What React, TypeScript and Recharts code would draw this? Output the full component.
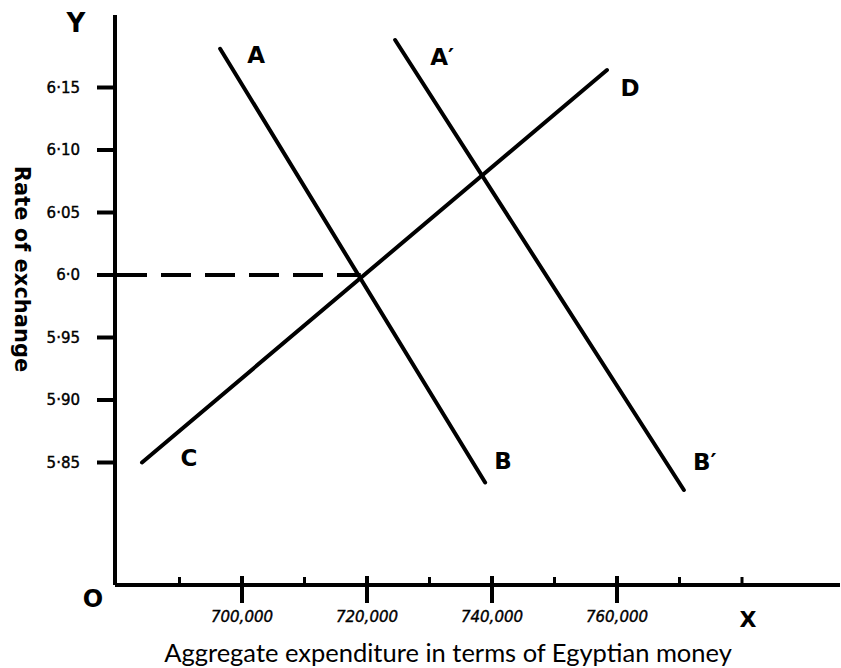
import { Label, Line, LineChart, XAxis, YAxis } from "recharts";

// demand curves AB / A'B', supply curve CD
const abLine = [
  { x: 696500, y: 6.181 },
  { x: 738900, y: 5.834 },
];
const abPrimeLine = [
  { x: 724500, y: 6.188 },
  { x: 770700, y: 5.828 },
];
const cdLine = [
  { x: 684000, y: 5.85 },
  { x: 758400, y: 6.164 },
];
const equilibrium = [
  { x: 680000, y: 6.0 },
  { x: 719000, y: 6.0 },
];

const abNames = ["A", "B"];
const abPrimeNames = ["A\u2032", "B\u2032"];
const cdNames = ["C", "D"];

const yTicks = [5.85, 5.9, 5.95, 6.0, 6.05, 6.1, 6.15];
const yTickLabels = ["5·85", "5·90", "5·95", "6·0", "6·05", "6·10", "6·15"];
const xMajorTicks = [700000, 720000, 740000, 760000];
const xTickLabels = ["700,000", "720,000", "740,000", "760,000"];
const xMinorTicks = [690000, 710000, 730000, 750000, 770000, 780000];

const INK = "#000";
const TICK_FONT = "'DejaVu Sans', sans-serif";
const TITLE_FONT = "Lato, 'DejaVu Sans', sans-serif";

const endLabel =
  (names: string[], offsets: [number, number][]) => (props: any) => {
    const { x, y, index } = props;
    const name = names[index];
    if (!name) return null;
    const [dx, dy] = offsets[index];
    return (
      <text
        key={name}
        x={x + dx}
        y={y + dy}
        textAnchor="middle"
        dominantBaseline="central"
        fontFamily={TICK_FONT}
        fontWeight="bold"
        fontSize={23}
        fill={INK}
      >
        {name}
      </text>
    );
  };

const YTick = (props: any) => {
  const { x, y, payload } = props;
  const i = yTicks.indexOf(payload.value);
  return (
    <text
      x={x}
      y={y}
      textAnchor="end"
      dominantBaseline="central"
      fontFamily={TICK_FONT}
      fontSize={15}
      stroke={INK}
      strokeWidth={0.4}
      fill={INK}
    >
      {yTickLabels[i]}
    </text>
  );
};

const XTick = (props: any) => {
  const { x, y, payload } = props;
  const i = xMajorTicks.indexOf(payload.value);
  if (i < 0) {
    return <line x1={x} x2={x} y1={y - 8} y2={y} stroke={INK} strokeWidth={3} />;
  }
  return (
    <g>
      <line x1={x} x2={x} y1={y - 9} y2={y + 18} stroke={INK} strokeWidth={4} />
      <text
        x={x}
        y={y + 32}
        textAnchor="middle"
        dominantBaseline="central"
        fontFamily={TICK_FONT}
        fontStyle="italic"
        fontSize={15}
        stroke={INK}
        strokeWidth={0.4}
        fill={INK}
      >
        {xTickLabels[i]}
      </text>
    </g>
  );
};

const XAxisLabels = (props: any) => {
  const { x, y } = props.viewBox;
  return (
    <g fill={INK}>
      <text
        x={x + 333}
        y={y + 67}
        textAnchor="middle"
        dominantBaseline="central"
        fontFamily={TITLE_FONT}
        fontSize={25.5}
      >
        Aggregate expenditure in terms of Egyptian money
      </text>
      <text
        x={x + 633}
        y={y + 34}
        textAnchor="middle"
        dominantBaseline="central"
        fontFamily={TICK_FONT}
        fontWeight="bold"
        fontSize={22}
      >
        X
      </text>
      <text
        x={x - 22}
        y={y + 14}
        textAnchor="middle"
        dominantBaseline="central"
        fontFamily={TICK_FONT}
        fontWeight="bold"
        fontSize={24}
      >
        O
      </text>
    </g>
  );
};

const YAxisLabels = (props: any) => {
  const { x, y } = props.viewBox;
  return (
    <g fill={INK}>
      <text
        x={x + 76}
        y={y + 8}
        textAnchor="middle"
        dominantBaseline="central"
        fontFamily={TICK_FONT}
        fontWeight="bold"
        fontSize={26}
      >
        Y
      </text>
      <text
        x={x + 22}
        y={y + 254}
        transform={`rotate(90 ${x + 22} ${y + 254})`}
        textAnchor="middle"
        dominantBaseline="central"
        fontFamily={TICK_FONT}
        fontWeight="bold"
        fontSize={21}
      >
        Rate of exchange
      </text>
    </g>
  );
};

export default function App() {
  const lineProps = {
    dataKey: "y",
    stroke: INK,
    strokeWidth: 4,
    strokeLinecap: "round" as const,
    dot: false,
    activeDot: false,
    isAnimationActive: false,
  };

  return (
    <div
      style={{
        position: "absolute",
        left: 0,
        top: 0,
        width: 841,
        height: 668,
        background: "#fff",
      }}
    >
      <LineChart
        width={841}
        height={668}
        margin={{ top: 15, right: 1, left: 0, bottom: 0 }}
      >
        <XAxis
          type="number"
          dataKey="x"
          domain={[679680, 795680]}
          allowDataOverflow
          ticks={[...xMinorTicks, ...xMajorTicks].sort((a, b) => a - b)}
          interval={0}
          height={83}
          tickSize={0}
          tickMargin={0}
          tickLine={false}
          axisLine={{ stroke: INK, strokeWidth: 4 }}
          tick={<XTick />}
        >
          <Label content={<XAxisLabels />} />
        </XAxis>
        <YAxis
          type="number"
          domain={[5.752, 6.208]}
          allowDataOverflow
          ticks={yTicks}
          interval={0}
          width={115}
          tickSize={18}
          tickMargin={17}
          tickLine={{ stroke: INK, strokeWidth: 4 }}
          axisLine={{ stroke: INK, strokeWidth: 4 }}
          tick={<YTick />}
        >
          <Label content={<YAxisLabels />} />
        </YAxis>
        <Line
          {...lineProps}
          data={equilibrium}
          strokeDasharray="30 14"
          strokeLinecap="butt"
        />
        <Line
          {...lineProps}
          data={abLine}
          label={endLabel(abNames, [
            [36, 6],
            [18, -22],
          ])}
        />
        <Line
          {...lineProps}
          data={abPrimeLine}
          label={endLabel(abPrimeNames, [
            [47, 17],
            [21, -28],
          ])}
        />
        <Line
          {...lineProps}
          data={cdLine}
          label={endLabel(cdNames, [
            [47, -5],
            [23, 18],
          ])}
        />
      </LineChart>
    </div>
  );
}
